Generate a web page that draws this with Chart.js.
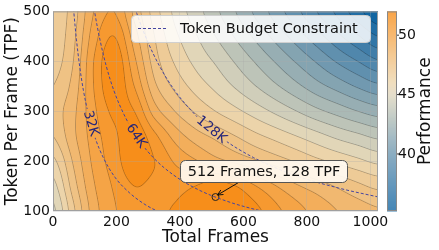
<!DOCTYPE html>
<html>
<head>
<meta charset="utf-8">
<script src="https://cdn.jsdelivr.net/npm/chart.js@4.4.1/dist/chart.umd.min.js"></script>
<style>
  html, body { margin: 0; padding: 0; background: #fff; }
</style>
</head>
<body>
<canvas id="chart" width="439" height="250"></canvas>
<script>
// performance surface (rows top -> bottom)
const frameCols = [0, 64, 128, 192, 256, 320, 384, 448, 512, 576, 640, 704, 768, 832, 896, 960, 1024];
const tpfRows = [500, 450, 400, 350, 300, 250, 200, 150, 100];
const perf = [
  [46.6, 47.6, 49.6, 50.4, 48.6, 46.8, 45.4, 44.4, 43.4, 42.4, 41.4, 40.4, 39.4, 38.4, 37.4, 36.3, 35.3],
  [46.6, 47.8, 50.0, 51.2, 49.2, 47.2, 45.8, 44.9, 44.0, 43.1, 42.2, 41.3, 40.4, 39.5, 38.6, 37.7, 36.8],
  [46.8, 48.0, 50.4, 51.8, 49.8, 47.6, 46.3, 45.4, 44.7, 43.9, 43.1, 42.3, 41.5, 40.7, 39.9, 39.2, 38.5],
  [47.2, 48.3, 50.4, 51.8, 50.4, 48.2, 47.0, 46.1, 45.4, 44.7, 44.0, 43.3, 42.6, 41.9, 41.3, 40.7, 40.2],
  [47.6, 48.6, 50.2, 51.4, 51.2, 49.2, 48.0, 47.1, 46.4, 45.8, 45.2, 44.6, 44.0, 43.4, 42.9, 42.4, 42.0],
  [47.2, 48.6, 50.0, 51.0, 51.8, 50.6, 49.3, 48.4, 47.8, 47.2, 46.6, 46.1, 45.6, 45.1, 44.6, 44.2, 43.8],
  [46.2, 48.1, 49.8, 50.8, 51.8, 51.2, 50.3, 49.7, 49.1, 48.6, 48.1, 47.6, 47.1, 46.6, 46.2, 45.8, 45.4],
  [45.3, 47.6, 49.5, 50.5, 51.2, 51.0, 50.9, 51.2, 51.6, 51.2, 50.4, 49.6, 48.9, 48.4, 47.9, 47.4, 47.0],
  [44.6, 47.0, 49.2, 50.3, 50.8, 51.0, 51.3, 51.8, 51.9, 51.8, 51.4, 50.6, 49.9, 49.3, 48.8, 48.4, 48.1]
];

// token budget curves (frames x tpf = budget)
const budgetNames = ['32K', '64K', '128K'];
const budgetTokens = [32768, 65536, 131072];
const frames32k = [60, 66, 74, 84, 96, 112, 132, 160, 196, 240, 290, 340];
const tpf32k = [546, 496, 443, 390, 341, 293, 248, 205, 167, 137, 113, 96];
const frames64k = [120, 132, 148, 168, 192, 224, 264, 316, 380, 460, 560, 680];
const tpf64k = [546, 496, 443, 390, 341, 293, 248, 207, 172, 142, 117, 96];
const frames128k = [240, 264, 296, 336, 384, 448, 528, 632, 760, 900, 1040];
const tpf128k = [546, 496, 443, 390, 341, 293, 248, 207, 172, 146, 126];
const budgetLabelFrames = [119, 262, 499];

// highlighted setting
const pickFrames = [512];
const pickTpf = [128];

const xTicks = [0, 200, 400, 600, 800, 1000];
const yTicks = [100, 200, 300, 400, 500];
const cbarTicks = [40, 45, 50];

const levelStart = 35.2, levelStep = 0.8, levelCount = 22;

// colormap stops: blue -> beige -> orange
const cmapAt = [35.2, 37.5, 40.0, 42.5, 45.0, 46.0, 48.0, 50.0, 52.0];
const cmapRgb = [
  [12, 98, 160], [55, 121, 168], [104, 148, 175], [163, 181, 180], [222, 214, 188],
  [236, 212, 170], [240, 189, 122], [245, 164, 70], [248, 137, 15]
];

function cmap(v) {
  if (v <= cmapAt[0]) return cmapRgb[0];
  for (let i = 0; i < cmapAt.length - 1; i++) {
    if (v <= cmapAt[i + 1]) {
      const s = (v - cmapAt[i]) / (cmapAt[i + 1] - cmapAt[i]);
      const a = cmapRgb[i], b = cmapRgb[i + 1];
      return [a[0] + (b[0] - a[0]) * s, a[1] + (b[1] - a[1]) * s, a[2] + (b[2] - a[2]) * s];
    }
  }
  return cmapRgb[cmapRgb.length - 1];
}

function fracIndex(arr, v) {
  const n = arr.length;
  const asc = arr[n - 1] > arr[0];
  for (let i = 0; i < n - 1; i++) {
    const a = arr[i], b = arr[i + 1];
    if ((asc && v <= b) || (!asc && v >= b)) {
      return Math.max(0, i + (v - a) / (b - a));
    }
  }
  return n - 1;
}

function cr(p0, p1, p2, p3, t) {
  return p1 + 0.5 * t * (p2 - p0 + t * (2 * p0 - 5 * p1 + 4 * p2 - p3 + t * (3 * (p1 - p2) + p3 - p0)));
}

function sample(f, t) {
  const u = fracIndex(frameCols, f), w = fracIndex(tpfRows, t);
  const i = Math.floor(u), j = Math.floor(w);
  const fu = u - i, fw = w - j;
  const cl = (k, n) => Math.max(0, Math.min(n - 1, k));
  const rowVal = jj => {
    const r = perf[cl(jj, perf.length)], n = r.length;
    return cr(r[cl(i - 1, n)], r[cl(i, n)], r[cl(i + 1, n)], r[cl(i + 2, n)], fu);
  };
  return cr(rowVal(j - 1), rowVal(j), rowVal(j + 1), rowVal(j + 2), fw);
}

const FONT = "'DejaVu Sans', sans-serif";
Chart.defaults.font.family = FONT;
Chart.defaults.color = '#111';

// filled contours + thin contour lines, painted under the grid
const fieldPlugin = {
  id: 'field',
  beforeDraw(chart) {
    const { ctx, chartArea: a, scales } = chart;
    const x0 = Math.round(a.left), y0 = Math.round(a.top);
    const w = Math.round(a.right) - x0, h = Math.round(a.bottom) - y0;
    const W = w + 2, H = h + 2;
    const vals = new Float64Array(W * H);
    for (let j = 0; j < H; j++) {
      const t = scales.y.getValueForPixel(y0 + j - 0.5);
      for (let i = 0; i < W; i++) {
        const f = scales.x.getValueForPixel(x0 + i - 0.5);
        vals[j * W + i] = sample(f, t);
      }
    }
    const img = ctx.createImageData(w, h);
    for (let j = 0; j < h; j++) {
      for (let i = 0; i < w; i++) {
        const k = (j + 1) * W + (i + 1);
        const v = vals[k];
        let band = Math.floor((v - levelStart) / levelStep);
        band = Math.max(0, Math.min(levelCount - 2, band));
        const c = cmap(levelStart + (band + 0.5) * levelStep);
        const gx = (vals[k + 1] - vals[k - 1]) / 2, gy = (vals[k + W] - vals[k - W]) / 2;
        const g = Math.hypot(gx, gy) || 1e-6;
        const q = (v - levelStart) / levelStep;
        const lvl = Math.round(q);
        let cover = 0;
        if (lvl > 0 && lvl < levelCount - 1) {
          const d = Math.abs(q - lvl) * levelStep / g;
          cover = Math.max(0, Math.min(1, 0.85 - d)) * 0.28;
        }
        const p = (j * w + i) * 4;
        img.data[p] = c[0] * (1 - cover);
        img.data[p + 1] = c[1] * (1 - cover);
        img.data[p + 2] = c[2] * (1 - cover);
        img.data[p + 3] = 255;
      }
    }
    ctx.putImageData(img, x0, y0);
  }
};

function labelGeom(chart, k) {
  const { x, y } = chart.scales;
  const f = budgetLabelFrames[k], tok = budgetTokens[k];
  const px = x.getPixelForValue(f), py = y.getPixelForValue(tok / f);
  const qx = x.getPixelForValue(f + 4), qy = y.getPixelForValue(tok / (f + 4));
  return { px, py, ang: Math.atan2(qy - py, qx - px) };
}

// gaps in the budget lines where the inline labels sit, then the labels
const budgetLabelPlugin = {
  id: 'budgetLabels',
  beforeDatasetDraw(chart, args) {
    if (args.index > 2) return;
    const ctx = chart.ctx;
    const g = labelGeom(chart, args.index);
    ctx.save();
    ctx.font = '13.5px ' + FONT;
    const tw = ctx.measureText(budgetNames[args.index]).width + 4;
    ctx.beginPath();
    ctx.rect(0, 0, chart.width, chart.height);
    const c = Math.cos(g.ang), s = Math.sin(g.ang);
    const pts = [[-tw / 2, -7], [tw / 2, -7], [tw / 2, 7], [-tw / 2, 7]];
    pts.forEach(([u, v], i) => {
      const X = g.px + u * c - v * s, Y = g.py + u * s + v * c;
      if (i === 0) ctx.moveTo(X, Y); else ctx.lineTo(X, Y);
    });
    ctx.closePath();
    ctx.clip('evenodd');
  },
  afterDatasetDraw(chart, args) {
    if (args.index > 2) return;
    chart.ctx.restore();
  },
  afterDatasetsDraw(chart) {
    const ctx = chart.ctx;
    budgetNames.forEach((name, k) => {
      const g = labelGeom(chart, k);
      ctx.save();
      ctx.translate(g.px, g.py);
      ctx.rotate(g.ang);
      ctx.font = '13.5px ' + FONT;
      ctx.fillStyle = '#26267a';
      ctx.textAlign = 'center';
      ctx.textBaseline = 'middle';
      ctx.fillText(name, 0, 0);
      ctx.restore();
    });
  }
};

const LEVEL_MIN = levelStart, LEVEL_MAX = levelStart + levelStep * (levelCount - 1);

const overlayPlugin = {
  id: 'overlay',
  afterDraw(chart) {
    const { ctx, chartArea: a, scales } = chart;
    // plot frame
    ctx.save();
    ctx.strokeStyle = '#a0a0a0';
    ctx.lineWidth = 1;
    ctx.strokeRect(a.left + 0.5, a.top + 0.5, a.right - a.left - 1, a.bottom - a.top - 1);

    // colorbar
    const cx = 387, cw = 10, ct = a.top, cb = a.bottom;
    for (let yy = ct; yy < cb; yy++) {
      const v = LEVEL_MAX - (yy + 0.5 - ct) / (cb - ct) * (LEVEL_MAX - LEVEL_MIN);
      const c = cmap(v);
      ctx.fillStyle = `rgb(${c[0] | 0},${c[1] | 0},${c[2] | 0})`;
      ctx.fillRect(cx, yy, cw, 1);
    }
    ctx.strokeStyle = '#888';
    ctx.strokeRect(cx + 0.5, ct + 0.5, cw - 1, cb - ct - 1);
    ctx.font = '14px ' + FONT;
    ctx.fillStyle = '#111';
    ctx.textBaseline = 'middle';
    ctx.textAlign = 'left';
    cbarTicks.forEach(v => {
      const yy = cb - (v - LEVEL_MIN) / (LEVEL_MAX - LEVEL_MIN) * (cb - ct);
      ctx.strokeStyle = '#333';
      ctx.beginPath();
      ctx.moveTo(cx + cw, yy);
      ctx.lineTo(cx + cw + 2, yy);
      ctx.stroke();
      ctx.fillText(String(v), cx + cw + 1, yy);
    });
    ctx.save();
    ctx.translate(426, (ct + cb) / 2);
    ctx.rotate(-Math.PI / 2);
    ctx.font = '17px ' + FONT;
    ctx.textAlign = 'center';
    ctx.fillText('Performance', 0, 0);
    ctx.restore();

    // legend
    const ds = chart.data.datasets[0];
    ctx.beginPath();
    ctx.roundRect(131.5, 15.5, 239, 27, 4);
    ctx.fillStyle = 'rgba(255,255,255,0.85)';
    ctx.fill();
    ctx.strokeStyle = '#d0d0d0';
    ctx.stroke();
    ctx.beginPath();
    ctx.setLineDash(ds.borderDash);
    ctx.strokeStyle = ds.borderColor;
    ctx.lineWidth = ds.borderWidth;
    ctx.moveTo(138, 28.5);
    ctx.lineTo(167, 28.5);
    ctx.stroke();
    ctx.setLineDash([]);
    ctx.font = '14.5px ' + FONT;
    ctx.fillStyle = '#111';
    ctx.fillText(ds.label, 180, 29);

    // annotation for the highlighted setting
    const px = scales.x.getPixelForValue(pickFrames[0]);
    const py = scales.y.getPixelForValue(pickTpf[0]);
    const bx = 180.5, by = 160.5, bw = 167, bh = 22;
    ctx.beginPath();
    ctx.moveTo(bx + 58, by + bh);
    ctx.lineTo(px + 2, py - 2);
    ctx.strokeStyle = '#111';
    ctx.lineWidth = 1;
    ctx.stroke();
    const ang = Math.atan2(py - 2 - (by + bh), px + 2 - (bx + 58));
    ctx.beginPath();
    ctx.moveTo(px + 2 - 6 * Math.cos(ang - 0.45), py - 2 - 6 * Math.sin(ang - 0.45));
    ctx.lineTo(px + 2, py - 2);
    ctx.lineTo(px + 2 - 6 * Math.cos(ang + 0.45), py - 2 - 6 * Math.sin(ang + 0.45));
    ctx.stroke();
    ctx.beginPath();
    ctx.roundRect(bx, by, bw, bh, 5);
    ctx.fillStyle = 'rgba(255,250,242,0.92)';
    ctx.fill();
    ctx.strokeStyle = '#555';
    ctx.stroke();
    ctx.fillStyle = '#111';
    ctx.textAlign = 'center';
    ctx.font = '14.5px ' + FONT;
    ctx.fillText(`${pickFrames[0]} Frames, ${pickTpf[0]} TPF`, bx + bw / 2, by + bh / 2 + 0.5);
    ctx.restore();
  }
};

const lineStyle = {
  type: 'line',
  label: 'Token Budget Constraint',
  borderColor: '#4545a0',
  borderWidth: 1,
  borderDash: [3, 2],
  pointRadius: 0,
  fill: false,
  cubicInterpolationMode: 'monotone'
};

new Chart(document.getElementById('chart'), {
  type: 'line',
  data: {
    datasets: [
      { ...lineStyle, data: frames32k.map((f, i) => ({ x: f, y: tpf32k[i] })) },
      { ...lineStyle, data: frames64k.map((f, i) => ({ x: f, y: tpf64k[i] })) },
      { ...lineStyle, data: frames128k.map((f, i) => ({ x: f, y: tpf128k[i] })) },
      {
        type: 'scatter',
        label: 'pick',
        data: pickFrames.map((f, i) => ({ x: f, y: pickTpf[i] })),
        pointRadius: 3.5,
        borderColor: '#222',
        borderWidth: 1,
        backgroundColor: 'rgba(0,0,0,0)'
      }
    ]
  },
  options: {
    responsive: false,
    animation: false,
    devicePixelRatio: 1,
    layout: { padding: { top: 8, right: 61, left: 0, bottom: 0 } },
    plugins: { legend: { display: false }, tooltip: { enabled: false } },
    scales: {
      x: {
        type: 'linear',
        min: 0,
        max: 1024,
        afterBuildTicks: s => { s.ticks = xTicks.map(v => ({ value: v })); },
        afterFit: s => { s.height = 39; },
        ticks: { font: { size: 14 }, color: '#111', padding: 3, maxRotation: 0, callback: v => String(v) },
        grid: { color: 'rgba(170,170,170,0.3)', drawTicks: false },
        border: { display: false },
        title: { display: true, text: 'Total Frames', font: { size: 17 }, color: '#111', padding: { top: 0, bottom: 2 } }
      },
      y: {
        type: 'linear',
        min: 100,
        max: 500,
        afterBuildTicks: s => { s.ticks = yTicks.map(v => ({ value: v })); },
        afterFit: s => { s.width = 53; },
        ticks: { font: { size: 14 }, color: '#111', padding: 3, callback: v => String(v) },
        grid: { color: 'rgba(170,170,170,0.3)', drawTicks: false },
        border: { display: false },
        title: { display: true, text: 'Token Per Frame (TPF)', font: { size: 17 }, color: '#111', padding: { top: 2, bottom: 0 } }
      }
    }
  },
  plugins: [fieldPlugin, budgetLabelPlugin, overlayPlugin]
});
</script>
</body>
</html>
